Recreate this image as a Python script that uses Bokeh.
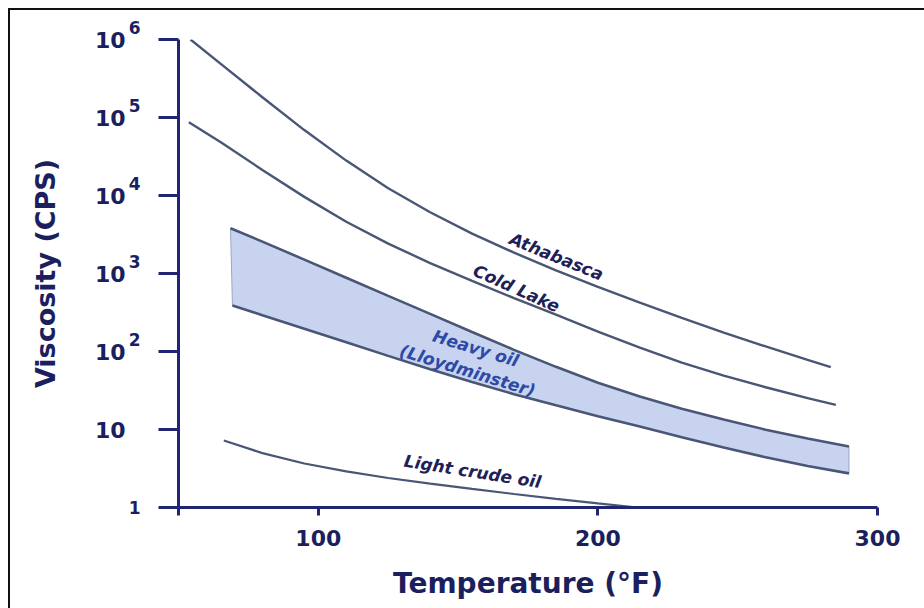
from bokeh.plotting import figure
from bokeh.models import Range1d, FixedTicker, LogAxis
from bokeh.core.properties import value
from bokeh.embed import file_html
from bokeh.resources import INLINE

# Viscosity vs temperature curves (temperature in °F, viscosity in cP)
athabasca_t = [54.3, 65, 80, 95, 110, 125, 140, 155, 170, 185, 200, 215, 230, 245, 260, 275, 283.3]
athabasca_v = [1.0e6, 4.9e5, 1.82e5, 6.9e4, 2.8e4, 1.24e4, 6.1e3, 3.24e3, 1.85e3,
               1.10e3, 675, 422, 269, 175, 116, 78, 63]

cold_lake_t = [53.7, 65, 80, 95, 110, 125, 140, 155, 170, 185, 200, 215, 230, 245, 260, 275, 285.1]
cold_lake_v = [8.7e4, 4.85e4, 2.13e4, 9.6e3, 4.6e3, 2.42e3, 1.36e3, 802, 484,
               297, 180, 112, 72, 49, 34.8, 25.3, 20.7]

heavy_upper_t = [68.6, 80, 95, 110, 125, 140, 155, 170, 185, 200, 215, 230, 245, 260, 275, 289.8]
heavy_upper_v = [3800, 2565, 1507, 881, 516, 304, 178, 105, 63.6, 39.8, 26.5, 18.5,
                 13.4, 9.95, 7.66, 6.05]

heavy_lower_t = [69.3, 80, 95, 110, 125, 140, 155, 170, 185, 200, 215, 230, 245, 260, 275, 289.8]
heavy_lower_v = [389, 292, 196, 131, 87.9, 59.3, 40.6, 28.4, 20.4, 14.8, 10.9, 7.97,
                 5.86, 4.40, 3.41, 2.74]

light_t = [66.2, 80, 95, 110, 125, 140, 155, 170, 185, 200, 214.1]
light_v = [7.24, 4.98, 3.67, 2.90, 2.39, 2.02, 1.73, 1.49, 1.29, 1.13, 1.0]

# Axis ticks: y labels are a base ("10") followed by a raised power
x_ticks = [50, 100, 200, 300]
x_tick_labels = ["", "100", "200", "300"]
y_ticks = [1, 10, 100, 1000, 10000, 100000, 1000000]
y_tick_bases = ["", "10", "10", "10", "10", "10", "10"]
y_tick_powers = ["1", "", "2", "3", "4", "5", "6"]

# Curve annotations
label_text = ["Athabasca", "Cold Lake", "Heavy oil", "(Lloydminster)", "Light crude oil"]
label_t = [185.2, 170.9, 156.3, 153.4, 155.2]
label_v = [1650, 645, 110, 57, 2.9]
label_angle = [-22, -24, -17, -17, -9]
label_color = ["#1e2158", "#1e2158", "#2d4aa6", "#2d4aa6", "#1e2158"]

NAVY = "#1f2572"
TEXT = "#1c1f5e"
CURVE = "#4a5676"
FONT = "DejaVu Sans"

p = figure(
    width=924, height=608,
    x_range=Range1d(50, 300), y_range=Range1d(1, 1e6),
    y_axis_type="log",
    output_backend="svg", toolbar_location=None,
    min_border_left=178, min_border_right=47,
    min_border_top=39, min_border_bottom=101,
)
p.outline_line_color = None
p.grid.visible = False
p.background_fill_color = "white"
p.border_fill_alpha = 0
# black frame lines along the left and top of the picture
p.styles = {
    "background-color": "white",
    "background-image": "linear-gradient(#111111, #111111), linear-gradient(#111111, #111111)",
    "background-repeat": "no-repeat",
    "background-position": "8px 8px, 8px 8px",
    "background-size": "2px 100%, 100% 2px",
}

# Heavy oil band
band_x = heavy_upper_t + heavy_lower_t[::-1]
band_y = heavy_upper_v + heavy_lower_v[::-1]
p.patch(band_x, band_y, fill_color="#c8d4ef", line_color="#9aa6c4", line_width=1)
p.line(heavy_upper_t, heavy_upper_v, line_color=CURVE, line_width=2.6)
p.line(heavy_lower_t, heavy_lower_v, line_color=CURVE, line_width=2.6)

p.line(athabasca_t, athabasca_v, line_color=CURVE, line_width=2.4)
p.line(cold_lake_t, cold_lake_v, line_color=CURVE, line_width=2.4)
p.line(light_t, light_v, line_color=CURVE, line_width=2.2)

p.text(
    x=label_t, y=label_v, text=label_text, angle=label_angle, angle_units="deg",
    text_color=label_color, text_font=value(FONT), text_font_size="17px",
    text_font_style="bold italic", text_align="center", text_baseline="middle",
)

# x axis
xa = p.xaxis[0]
xa.ticker = FixedTicker(ticks=x_ticks)
xa.major_label_overrides = {t: s for t, s in zip(x_ticks, x_tick_labels)}
xa.minor_tick_line_color = None
xa.major_tick_in = 0
xa.major_tick_out = 8
xa.major_label_standoff = 14
xa.major_label_text_font_size = "22px"
xa.axis_label = "Temperature (°F)"
xa.axis_label_text_font_size = "28px"
xa.axis_label_standoff = 18

# inner y axis: line, ticks, the "1" and the raised powers (second, empty line lifts them)
ya = p.yaxis[0]
ya.ticker = FixedTicker(ticks=y_ticks)
ya.major_label_overrides = {
    t: (s if t == 1 or not s else s + "\n") for t, s in zip(y_ticks, y_tick_powers)
}
ya.minor_tick_line_color = None
ya.major_tick_in = 0
ya.major_tick_out = 20
ya.major_label_standoff = 18
ya.major_label_text_font_size = "17px"

# outer y axis: the "10" bases and the axis title
yb = LogAxis(ticker=FixedTicker(ticks=y_ticks))
yb.major_label_overrides = {t: s for t, s in zip(y_ticks, y_tick_bases)}
yb.axis_line_color = None
yb.major_tick_line_color = None
yb.minor_tick_line_color = None
yb.major_tick_in = 0
yb.major_tick_out = 0
yb.major_label_standoff = 0
yb.major_label_text_font_size = "22px"
yb.axis_label = "Viscosity (CPS)"
yb.axis_label_text_font_size = "27px"
yb.axis_label_standoff = 31
p.add_layout(yb, "left")

for ax in (xa, ya, yb):
    ax.major_label_text_color = TEXT
    ax.major_label_text_font = FONT
    ax.major_label_text_font_style = "bold"
    ax.axis_label_text_color = TEXT
    ax.axis_label_text_font = FONT
    ax.axis_label_text_font_style = "bold"
for ax in (xa, ya):
    ax.axis_line_color = NAVY
    ax.axis_line_width = 3
    ax.major_tick_line_color = NAVY
    ax.major_tick_line_width = 3

open("out.html", "w").write(file_html(p, INLINE))
